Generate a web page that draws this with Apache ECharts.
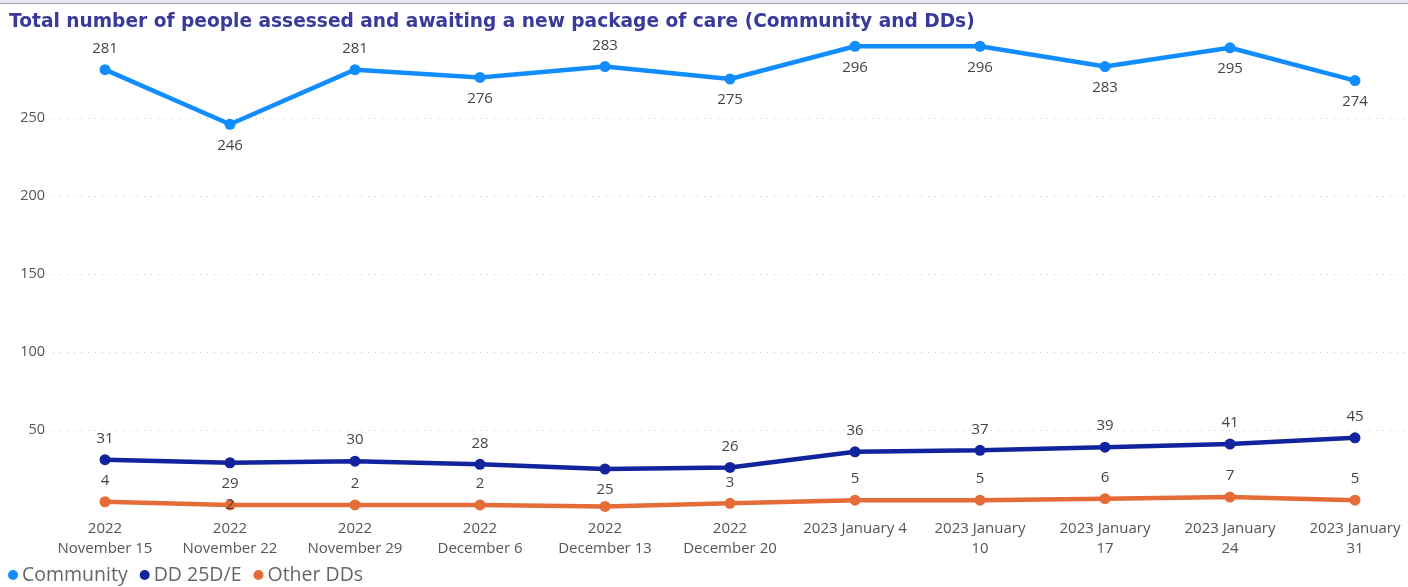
<!DOCTYPE html>
<html><head><meta charset="utf-8">
<script src="https://cdn.jsdelivr.net/npm/echarts@6/dist/echarts.min.js"></script>
<style>html,body{margin:0;padding:0;background:#fff;}#w{width:1408px;height:587px;box-sizing:border-box;border-top:3px solid #e4e8ee;}#c{width:1408px;height:584px;box-sizing:border-box;border-top:1px solid #9ea2aa;}</style>
</head><body><div id="w"><div id="c"></div></div>
<script>
const categories = ['2022\nNovember 15','2022\nNovember 22','2022\nNovember 29','2022\nDecember 6','2022\nDecember 13','2022\nDecember 20','2023 January 4','2023 January\n10','2023 January\n17','2023 January\n24','2023 January\n31'];
const community = [281,246,281,276,283,275,296,296,283,295,274];
const dd25 = [31,29,30,28,25,26,36,37,39,41,45];
const otherDDs = [4,2,2,2,1,3,5,5,6,7,5];
const yTicks = [0,50,100,150,200,250,300];
const commPos = ['top','bottom','top','bottom','top','bottom','bottom','bottom','bottom','bottom','bottom'];
const ddPos = ['top','bottom','top','top','bottom','top','top','top','top','top','top'];
const otherPos = ['top','inside','top','top','none','top','top','top','top','top','top'];

const FONT = "'Open Sans', 'Noto Sans', sans-serif";
const labelStyle = {fontFamily: FONT, fontSize: 15, color: '#444'};
function mk(vals, pos){
  return vals.map((v,i)=>{
    if(pos[i]==='none') return {value:v, label:{show:false}};
    return {value:v, label:{position:pos[i], distance: 8}};
  });
}
const chart = echarts.init(document.getElementById('c'));
chart.setOption({
  animation:false,
  title:{text:'Total number of people assessed and awaiting a new package of care (Community and DDs)', left:4, top:4,
    textStyle:{fontFamily:"'DejaVu Sans', sans-serif", fontSize:18.6, fontWeight:'bold', color:'#3a3a9c'}},
  legend:{left:3, bottom:-3, itemGap:12, itemWidth:10, itemHeight:10, icon:'circle',
    textStyle:{fontFamily:FONT, fontSize:19.5, color:'#666', padding:[0,0,0,-1]},
    data:['Community','DD 25D/E','Other DDs']},
  grid:[{left:53, right:3, top:36, bottom:79},{left:105, right:53, top:36, bottom:79}],
  xAxis:[
    {gridIndex:0, type:'category', data:categories, show:false},
    {gridIndex:1, type:'category', data:categories, boundaryGap:false,
     axisLine:{show:false}, axisTick:{show:false},
     axisLabel:{interval:0, margin:11, fontFamily:FONT, fontSize:15, color:'#555', lineHeight:20}}
  ],
  yAxis:[
    {gridIndex:0, type:'value', min:yTicks[0], max:yTicks[yTicks.length-1], interval:50,
     axisLine:{show:false}, axisTick:{show:false},
     axisLabel:{showMinLabel:false, showMaxLabel:false, margin:8, fontFamily:FONT, fontSize:14.5, color:'#555'},
     splitLine:{showMinLine:false, showMaxLine:false, lineStyle:{color:'#c8c8c8', type:[1,6], width:1}}},
    {gridIndex:1, type:'value', min:yTicks[0], max:yTicks[yTicks.length-1], interval:50, show:false, splitLine:{show:false}}
  ],
  series:[
    {name:'Community', type:'line', xAxisIndex:1, yAxisIndex:1, data:mk(community, commPos), color:'#118DFF',
     lineStyle:{width:4.5}, symbol:'circle', symbolSize:11, label:{show:true, ...labelStyle}},
    {name:'DD 25D/E', type:'line', xAxisIndex:1, yAxisIndex:1, data:mk(dd25, ddPos), color:'#12239E',
     lineStyle:{width:4.5}, symbol:'circle', symbolSize:11, label:{show:true, ...labelStyle}},
    {name:'Other DDs', type:'line', xAxisIndex:1, yAxisIndex:1, data:mk(otherDDs, otherPos), color:'#E66C37',
     lineStyle:{width:4.5}, symbol:'circle', symbolSize:11, label:{show:true, ...labelStyle}}
  ]
});
</script></body></html>
